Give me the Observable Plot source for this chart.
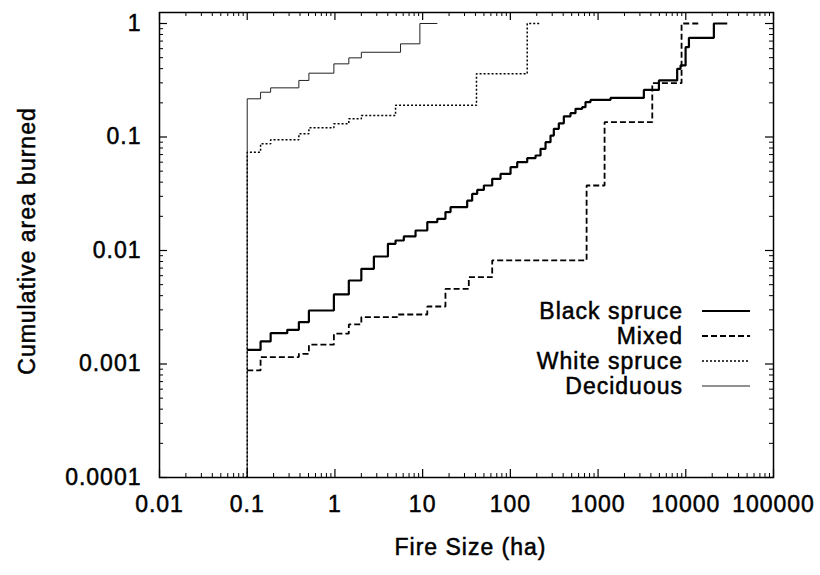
<!DOCTYPE html>
<html><head><meta charset="utf-8">
<script src="https://cdn.jsdelivr.net/npm/d3@7"></script>
<script src="https://cdn.jsdelivr.net/npm/@observablehq/plot@0.6"></script>
<style>
html,body{margin:0;padding:0;background:#fff;}
#chart svg{display:block;}
#chart svg text{stroke:#000;stroke-width:0.5px;letter-spacing:1px;}
</style></head><body><div id="chart"></div>
<script>
const seriesNames = ["Black spruce", "Mixed", "White spruce", "Deciduous"];

const blackSpruceX = [0.1, 0.142, 0.185, 0.286, 0.388, 0.505, 0.973, 1.44, 2.0, 2.78, 4.02, 4.91, 6.1, 8.3, 11.3, 14.7, 18.2, 20.8,
  32.2, 36.7, 41.9, 49.9, 62.1, 77.3, 100.5, 119.7, 155.6, 193.6, 220.8, 251.8, 287, 313, 357, 407, 485, 553, 659, 719, 820, 1387,
  3327, 4940, 7980, 8720, 9950, 10860, 20900, 29700];
const blackSpruceY = [0.00133, 0.00158, 0.00187, 0.0020, 0.00234, 0.00296, 0.0041, 0.00544, 0.0069, 0.00885, 0.01146, 0.01225, 0.0133, 0.015, 0.0178, 0.019, 0.0218, 0.0241,
  0.0275, 0.0315, 0.0342, 0.0374, 0.0428, 0.0473, 0.0542, 0.060, 0.0651, 0.0687, 0.0787, 0.090, 0.103, 0.118, 0.132, 0.152, 0.162, 0.177, 0.183, 0.203, 0.212, 0.221,
  0.260, 0.315, 0.399, 0.427, 0.618, 0.748, 1.0, 1.0];

const mixedX = [0.1, 0.142, 0.388, 0.505, 0.973, 1.44, 2.0, 5.13, 11.3, 18.2, 33.6, 62.1, 740, 1186, 4150, 8950, 14760];
const mixedY = [0.000877, 0.00115, 0.00123, 0.00148, 0.00185, 0.00223, 0.00259, 0.00273, 0.00321, 0.00459, 0.00582, 0.00817, 0.0374, 0.135, 0.298, 1.0, 1.0];

const whiteSpruceX = [0.1, 0.1, 0.142, 0.185, 0.388, 0.505, 0.973, 1.44, 2.0, 4.91, 41.1, 155.6, 221];
const whiteSpruceY = [0.0001, 0.0735, 0.087, 0.0945, 0.1067, 0.1205, 0.1306, 0.1445, 0.1545, 0.19, 0.36, 1.0, 1.0];

const deciduousX = [0.1, 0.1, 0.142, 0.185, 0.388, 0.505, 0.973, 1.44, 2.0, 5.6, 9.3, 14.7];
const deciduousY = [0.0001, 0.217, 0.248, 0.271, 0.315, 0.365, 0.441, 0.498, 0.558, 0.662, 1.0, 1.0];

const xTicks = [0.01, 0.1, 1, 10, 100, 1000, 10000, 100000];
const xTickLabels = ["0.01", "0.1", "1", "10", "100", "1000", "10000", "100000"];
const yTicks = [0.0001, 0.001, 0.01, 0.1, 1];
const yTickLabels = ["0.0001", "0.001", "0.01", "0.1", "1"];

const xs = [blackSpruceX, mixedX, whiteSpruceX, deciduousX];
const ys = [blackSpruceY, mixedY, whiteSpruceY, deciduousY];
const data = seriesNames.flatMap((name, i) => xs[i].map((x, j) => ({name, x, y: ys[i][j]})));

const lineStyles = {
  "Black spruce": {stroke: "#000", strokeWidth: 2.2},
  "Mixed": {stroke: "#000", strokeWidth: 1.8, strokeDasharray: "6,3"},
  "White spruce": {stroke: "#000", strokeWidth: 1.5, strokeDasharray: "2,2"},
  "Deciduous": {stroke: "#222", strokeWidth: 1}
};

const W = 820, H = 575;
const mL = 159, mR = 47, mT = 12, mB = 98;
const fw = W - mL - mR, fh = H - mT - mB;
const FONT = "'Liberation Sans', Arial, Helvetica, sans-serif";
const FS = 23;

const minorOf = (ticks) => ticks.slice(0, -1).flatMap(d => [2,3,4,5,6,7,8,9].map(k => k * d));
const xMinor = minorOf(xTicks);
const yMinor = minorOf(yTicks);
const MAJ = 8, MIN = 4;

const chart = Plot.plot({
  width: W, height: H,
  marginLeft: mL, marginRight: mR, marginTop: mT, marginBottom: mB,
  style: {fontFamily: FONT, fontSize: FS + "px", color: "#000", background: "#fff"},
  x: {type: "log", domain: [0.01, 100000], axis: null},
  y: {type: "log", domain: [0.0001, 1.25], axis: null},
  marks: [
    ...seriesNames.slice().reverse().map(name => Plot.line(data.filter(d => d.name === name), {
      x: "x", y: "y", curve: "step-after", ...lineStyles[name], strokeLinejoin: "miter", strokeLinecap: "butt"
    })),
    Plot.frame({stroke: "#000", strokeWidth: 1.5}),
    Plot.tickX(xTicks, {x: d => d, insetTop: fh - MAJ, stroke: "#000", strokeWidth: 1.2}),
    Plot.tickX(xTicks, {x: d => d, insetBottom: fh - MAJ, stroke: "#000", strokeWidth: 1.2}),
    Plot.tickX(xMinor, {x: d => d, insetTop: fh - MIN, stroke: "#000", strokeWidth: 1}),
    Plot.tickX(xMinor, {x: d => d, insetBottom: fh - MIN, stroke: "#000", strokeWidth: 1}),
    Plot.tickY(yTicks, {y: d => d, insetRight: fw - MAJ, stroke: "#000", strokeWidth: 1.2}),
    Plot.tickY(yTicks, {y: d => d, insetLeft: fw - MAJ, stroke: "#000", strokeWidth: 1.2}),
    Plot.tickY(yMinor, {y: d => d, insetRight: fw - MIN, stroke: "#000", strokeWidth: 1}),
    Plot.tickY(yMinor, {y: d => d, insetLeft: fw - MIN, stroke: "#000", strokeWidth: 1}),
    Plot.axisX(xTicks, {anchor: "bottom", tickSize: 0, tickPadding: 18, label: null, fontSize: FS,
      tickFormat: d => xTickLabels[xTicks.indexOf(d)]}),
    Plot.axisY(yTicks, {anchor: "left", tickSize: 0, tickPadding: 18, label: null, fontSize: FS,
      tickFormat: d => yTickLabels[yTicks.indexOf(d)]}),
    Plot.text(["Fire Size (ha)"], {text: d => d, frameAnchor: "bottom", dy: 77, dx: 4, fontSize: FS}),
    Plot.text(["Cumulative area burned"], {text: d => d, frameAnchor: "left", textAnchor: "middle", rotate: -90, dx: -132, dy: -4, fontSize: FS})
  ]
});

document.getElementById("chart").appendChild(chart);

// legend (gnuplot-style, inside the plot frame)
const svg = d3.select(chart);
const lg = svg.append("g").attr("font-family", FONT).attr("font-size", FS);
const rowY = [311, 336, 361, 386];
seriesNames.forEach((name, i) => {
  lg.append("text").attr("x", 683).attr("y", rowY[i]).attr("dy", "0.35em")
    .attr("text-anchor", "end").attr("fill", "#000").text(name);
  const st = lineStyles[name];
  lg.append("line").attr("x1", 702).attr("x2", 750).attr("y1", rowY[i]).attr("y2", rowY[i])
    .attr("stroke", st.stroke).attr("stroke-width", st.strokeWidth)
    .attr("stroke-dasharray", st.strokeDasharray || null);
});
</script></body></html>
